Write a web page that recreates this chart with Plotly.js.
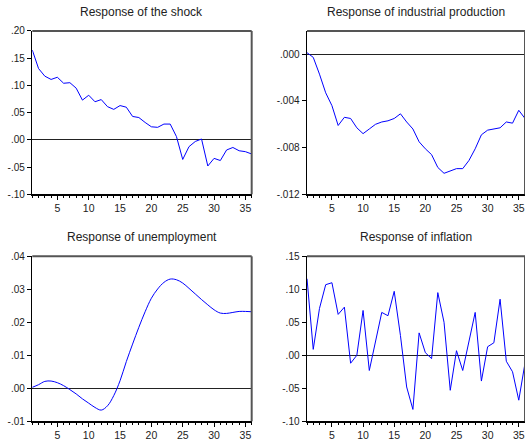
<!DOCTYPE html>
<html>
<head>
<meta charset="utf-8">
<script src="https://cdn.plot.ly/plotly-3.0.1.min.js"></script>
<style>
  html, body { margin: 0; padding: 0; background: #fff; }
  #plots { width: 525px; height: 444px; }
</style>
</head>
<body>
<div id="plots"></div>
<script>
// Impulse responses, periods 1..36.
const periods = Array.from({ length: 36 }, (_, i) => i + 1);

const shock = [
  0.165, 0.131, 0.117, 0.111, 0.115, 0.104, 0.105, 0.095, 0.073, 0.082,
  0.070, 0.074, 0.061, 0.056, 0.063, 0.060, 0.043, 0.041, 0.032, 0.024,
  0.023, 0.029, 0.029, 0.006, -0.036, -0.0125, -0.003, 0.0016, -0.048, -0.034,
  -0.038, -0.0186, -0.014, -0.020, -0.0217, -0.026,
];

const industrialProduction = [
  0.00014, -0.00026, -0.0017, -0.0033, -0.0044, -0.0061, -0.0054, -0.0055, -0.0063, -0.0068,
  -0.0064, -0.0060, -0.0058, -0.0057, -0.0055, -0.0051, -0.0058, -0.0064, -0.0075, -0.0081,
  -0.0086, -0.0097, -0.0102, -0.0100, -0.0098, -0.0098, -0.0091, -0.0081, -0.0069, -0.0065,
  -0.0064, -0.0063, -0.0058, -0.0059, -0.0048, -0.0055,
];

const unemployment = [
  0.0003, 0.0011, 0.0021, 0.0022, 0.0017, 0.0008, -0.0004, -0.0017, -0.0032, -0.0045,
  -0.0058, -0.0066, -0.0053, -0.0022, 0.0023, 0.0081, 0.0134, 0.0185, 0.0232, 0.0273,
  0.0301, 0.0321, 0.0331, 0.0329, 0.0319, 0.0303, 0.0286, 0.0269, 0.0253, 0.0238,
  0.0228, 0.0227, 0.0230, 0.0233, 0.0233, 0.0232,
];

const inflation = [
  0.116, 0.009, 0.071, 0.107, 0.110, 0.062, 0.073, -0.012, 0.000, 0.068,
  -0.023, 0.020, 0.065, 0.060, 0.097, 0.030, -0.048, -0.082, 0.034, 0.004,
  -0.005, 0.095, 0.050, -0.053, 0.007, -0.023, 0.020, 0.065, -0.039, 0.013,
  0.019, 0.085, -0.009, -0.025, -0.068, -0.012,
];

const titles = [
  "Response of the shock",
  "Response of industrial production",
  "Response of unemployment",
  "Response of inflation",
];

// y tick values and their EViews-style labels (no leading zero)
const shockTicks = [-0.10, -0.05, 0, 0.05, 0.10, 0.15, 0.20];
const shockLabels = ["-.10", "-.05", ".00", ".05", ".10", ".15", ".20"];
const ipTicks = [-0.012, -0.008, -0.004, 0];
const ipLabels = ["-.012", "-.008", "-.004", ".000"];
const unempTicks = [-0.01, 0, 0.01, 0.02, 0.03, 0.04];
const unempLabels = ["-.01", ".00", ".01", ".02", ".03", ".04"];
const inflTicks = [-0.10, -0.05, 0, 0.05, 0.10, 0.15];
const inflLabels = ["-.10", "-.05", ".00", ".05", ".10", ".15"];

const panels = [
  { y: shock, ticks: shockTicks, labels: shockLabels, range: [-0.10, 0.20] },
  { y: industrialProduction, ticks: ipTicks, labels: ipLabels, range: [-0.012, 0.002] },
  { y: unemployment, ticks: unempTicks, labels: unempLabels, range: [-0.01, 0.04], spline: true },
  { y: inflation, ticks: inflTicks, labels: inflLabels, range: [-0.10, 0.15] },
];

const xDomains = [[0.0615, 0.4794], [0.5848, 1.0]];
const yDomains = [[0.5624, 0.9302], [0.0511, 0.4227]];

const font = { family: "Liberation Sans, Arial, sans-serif", size: 10, color: "#222" };

const data = [];
const layout = {
  width: 525,
  height: 444,
  margin: { l: 0, r: 0, t: 0, b: 0 },
  paper_bgcolor: "#fff",
  plot_bgcolor: "#fff",
  showlegend: false,
  font: font,
  annotations: [],
  shapes: [],
};

panels.forEach((p, i) => {
  const n = i == 0 ? "" : String(i + 1);
  const col = i % 2;
  const row = Math.floor(i / 2);

  data.push({
    type: "scatter",
    mode: "lines",
    x: periods,
    y: p.y,
    xaxis: "x" + n,
    yaxis: "y" + n,
    line: { color: "#0000ff", width: 1, shape: p.spline ? "spline" : "linear" },
    hoverinfo: "x+y",
  });

  layout["xaxis" + n] = {
    domain: xDomains[col],
    anchor: "y" + n,
    range: [1, 36],
    tickmode: "linear",
    tick0: 0,
    dtick: 5,
    ticks: "outside",
    ticklen: 4,
    tickcolor: "#000",
    minor: { tickmode: "linear", tick0: 0, dtick: 1, ticks: "outside", ticklen: 2, tickcolor: "#000", showgrid: false },
    showline: true,
    linecolor: "#000",
    linewidth: 1.5,
    showgrid: false,
    zeroline: false,
    tickfont: { size: 10.5 },
    fixedrange: true,
  };

  layout["yaxis" + n] = {
    domain: yDomains[row],
    anchor: "x" + n,
    range: p.range,
    tickmode: "array",
    tickvals: p.ticks,
    ticktext: p.labels,
    ticks: "outside",
    ticklen: 4,
    tickcolor: "#000",
    showline: true,
    linecolor: "#000",
    linewidth: 1.5,
    showgrid: false,
    zeroline: true,
    zerolinecolor: "#222",
    zerolinewidth: 1.2,
    tickfont: { size: 10 },
    fixedrange: true,
  };

  layout.annotations.push({
    text: titles[i],
    xref: "x" + n + " domain",
    yref: "y" + n + " domain",
    x: 0.5,
    y: 1,
    xanchor: "center",
    yanchor: "bottom",
    yshift: 10,
    showarrow: false,
    font: { size: 12, color: "#222" },
  });

  // top and right edges of the frame are drawn in grey
  layout.shapes.push(
    {
      type: "line", xref: "x" + n + " domain", yref: "y" + n + " domain",
      x0: 0, x1: 1, y0: 1, y1: 1, line: { color: "#555", width: 2 },
    },
    {
      type: "line", xref: "x" + n + " domain", yref: "y" + n + " domain",
      x0: 1, x1: 1, y0: 0, y1: 1, line: { color: "#555", width: 2 },
    }
  );
});

Plotly.newPlot("plots", data, layout, { staticPlot: true, displayModeBar: false });
</script>
</body>
</html>
